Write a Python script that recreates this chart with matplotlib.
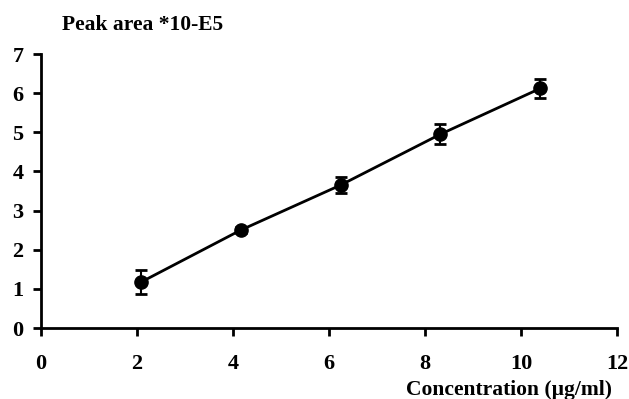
import numpy as np
import matplotlib.pyplot as plt

plt.rcParams['font.family'] = ['Liberation Serif', 'DejaVu Serif']
plt.rcParams['font.weight'] = 'bold'

conc = [2.08, 4.16, 6.24, 8.32, 10.4]
peak_area = [1.17, 2.5, 3.65, 4.95, 6.12]
err = [0.3, 0.08, 0.2, 0.25, 0.25]
xticks = [0, 2, 4, 6, 8, 10, 12]
yticks = [0, 1, 2, 3, 4, 5, 6, 7]

fig = plt.figure(figsize=(6.29, 3.99), dpi=100)
ax = fig.add_axes([41 / 629, 71 / 399, 576 / 629, 274 / 399])

ax.errorbar(conc, peak_area, yerr=err, fmt='o', color='black', markersize=9.5,
            capsize=4.3, capthick=2, elinewidth=1.5, zorder=3)
ax.plot(conc, peak_area, color='black', linewidth=2, zorder=2)

ax.set_xlim(0, 12)
ax.set_ylim(0, 7)
ax.set_xticks(xticks)
ax.set_yticks(yticks)
ax.spines['top'].set_visible(False)
ax.spines['right'].set_visible(False)
ax.spines['left'].set_linewidth(2)
ax.spines['bottom'].set_linewidth(2)
ax.tick_params(direction='out', length=5.5, width=2, labelsize=16)
ax.tick_params(axis='y', pad=7)
ax.tick_params(axis='x', pad=13.5)
for lbl in ax.get_xticklabels() + ax.get_yticklabels():
    lbl.set_fontweight('bold')

fig.text(62 / 629, 1 - 25 / 399, 'Peak area *10-E5', fontsize=15.5,
         fontweight='bold', va='center', ha='left')
fig.text(612 / 629, 1 - 390 / 399, 'Concentration (\u00b5g/ml)', fontsize=15.5,
         fontweight='bold', va='center', ha='right')

plt.savefig('out.png', dpi=100)
